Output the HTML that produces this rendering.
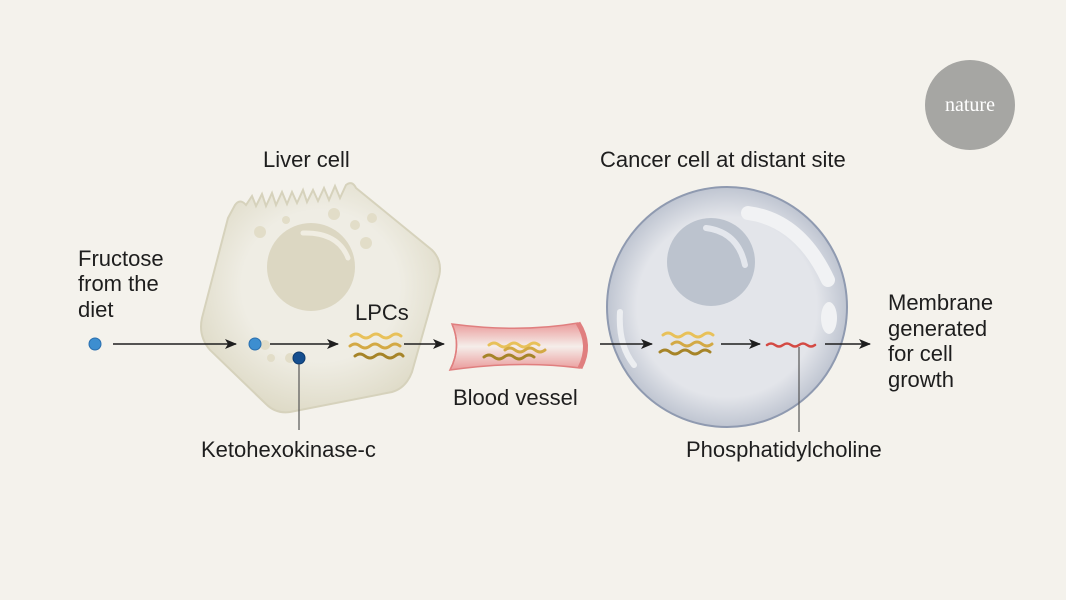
<!DOCTYPE html>
<html><head><meta charset="utf-8"><style>
html,body{margin:0;padding:0;background:#f4f2ec;}
svg{display:block}
text{font-family:"Liberation Sans",sans-serif;font-size:22px;fill:#1e1e1e}
</style></head><body>
<svg width="1066" height="600" viewBox="0 0 1066 600" xmlns="http://www.w3.org/2000/svg">
<defs>
<radialGradient id="lg" cx="0.5" cy="0.45" r="0.6"><stop offset="0.55" stop-color="#efede4"/><stop offset="1" stop-color="#dcd8c3"/></radialGradient>
<radialGradient id="cg" cx="0.5" cy="0.5" r="0.5"><stop offset="0.75" stop-color="#e3e5ea"/><stop offset="1" stop-color="#bfc5d1"/></radialGradient>
<linearGradient id="vg" x1="0" y1="0" x2="0" y2="1"><stop offset="0" stop-color="#ea9a9a"/><stop offset="0.5" stop-color="#f5eeea"/><stop offset="1" stop-color="#ea9a9a"/></linearGradient>
<marker id="ah" markerWidth="12" markerHeight="10" refX="11" refY="5" orient="auto" markerUnits="userSpaceOnUse"><path d="M0,0 L12,5 L0,10 L3,5 Z" fill="#1e1e1e"/></marker>
</defs>
<rect width="1066" height="600" fill="#f4f2ec"/>
<circle cx="970" cy="105" r="45" fill="#a6a6a3"/>
<text x="970" y="111" text-anchor="middle" style="font-family:'Liberation Serif',serif;font-size:20px;fill:#fff">nature</text>

<!-- liver cell -->
<path d="M235,205 Q240,198 246,205 L252,196 256,206 262,194 266,206 272,193 276,205 282,192 287,204 292,192 297,203 303,190 307,202 313,190 318,201 324,188 329,200 335,186 340,198 346,185 Q352,180 356,188 L432,250 Q444,262 438,280 L412,372 Q406,388 392,392 L290,412 Q276,414 266,404 L210,350 Q198,336 202,318 L228,218 Z" fill="url(#lg)" stroke="#d6d2bc" stroke-width="2"/>
<circle cx="311" cy="267" r="44" fill="#dcd7c2"/>
<path d="M303,233 Q338,232 348,258" stroke="#f0ede2" stroke-width="5" fill="none" stroke-linecap="round"/>
<circle cx="334" cy="214" r="6" fill="#e2ddc8"/><circle cx="355" cy="225" r="5" fill="#e2ddc8"/><circle cx="366" cy="243" r="6" fill="#e2ddc8"/><circle cx="260" cy="232" r="6" fill="#e2ddc8"/><circle cx="286" cy="220" r="4" fill="#e2ddc8"/><circle cx="372" cy="218" r="5" fill="#e2ddc8"/>
<circle cx="265" cy="345" r="5" fill="#e2ddc8"/><circle cx="290" cy="358" r="5" fill="#e2ddc8"/><circle cx="271" cy="358" r="4" fill="#e2ddc8"/>

<!-- cancer cell -->
<circle cx="727" cy="307" r="120" fill="url(#cg)" stroke="#8f9ab0" stroke-width="2"/>
<circle cx="711" cy="262" r="44" fill="#bcc3ce"/>
<path d="M706,228 Q738,232 745,265" stroke="#e4e7ed" stroke-width="6" fill="none" stroke-linecap="round"/>
<path d="M748,213 Q800,220 828,280" stroke="#f1f2f4" stroke-width="14" fill="none" stroke-linecap="round"/>
<ellipse cx="829" cy="318" rx="8" ry="16" fill="#f1f2f4"/>
<path d="M620,312 Q618,345 634,365" stroke="#eceef1" stroke-width="6" fill="none" stroke-linecap="round"/>

<!-- vessel -->
<path d="M452,324 Q520,333 578,323 Q592,345 580,368 Q520,360 450,370 Q462,347 452,324 Z" fill="url(#vg)" stroke="#e07f7f" stroke-width="1.5"/>
<path d="M452,324 Q462,347 450,370" stroke="#e07f7f" stroke-width="1.5" fill="none"/>
<path d="M578,323 Q592,345 580,368" stroke="#e07f7f" stroke-width="5" fill="none"/>

<!-- squiggles -->
<g fill="none" stroke-width="3" stroke-linecap="round">
<path d="M351,336 q5,-4 10,0 t10,0 t10,0 t10,0 t10,0" stroke="#e8c15a"/>
<path d="M350,346 q5,-4 10,0 t10,0 t10,0 t10,0 t10,0" stroke="#d3a944"/>
<path d="M355,356 q5,-4 10,0 t10,0 t10,0 t10,0 t8,0" stroke="#a68428"/>
<path d="M489,345 q5,-4 10,0 t10,0 t10,0 t10,0 t10,0" stroke="#e8c15a"/>
<path d="M505,350 q5,-4 10,0 t10,0 t10,0 t10,0" stroke="#d3a944"/>
<path d="M484,357 q5,-4 10,0 t10,0 t10,0 t10,0 t10,0" stroke="#a68428"/>
<path d="M663,335 q5,-4 10,0 t10,0 t10,0 t10,0 t10,0" stroke="#e8c15a"/>
<path d="M672,344 q5,-4 10,0 t10,0 t10,0 t10,0" stroke="#d3a944"/>
<path d="M660,352 q5,-4 10,0 t10,0 t10,0 t10,0 t10,0" stroke="#a68428"/>
<path d="M767,345 q4,-3 8,0 t8,0 t8,0 t8,0 t8,0 t8,0" stroke="#d44a44" stroke-width="2.5"/>
</g>

<!-- dots -->
<circle cx="95" cy="344" r="6" fill="#3d8ed0" stroke="#2a6fae"/>
<circle cx="255" cy="344" r="6" fill="#3d8ed0" stroke="#2a6fae"/>
<circle cx="299" cy="358" r="6" fill="#154e8f" stroke="#0d3a6e"/>

<!-- arrows -->
<g stroke="#1e1e1e" stroke-width="1.5" marker-end="url(#ah)">
<line x1="113" y1="344" x2="236" y2="344"/>
<line x1="270" y1="344" x2="338" y2="344"/>
<line x1="404" y1="344" x2="444" y2="344"/>
<line x1="600" y1="344" x2="652" y2="344"/>
<line x1="721" y1="344" x2="760" y2="344"/>
<line x1="825" y1="344" x2="870" y2="344"/>
</g>
<line x1="299" y1="364" x2="299" y2="430" stroke="#555" stroke-width="1.2"/>
<line x1="799" y1="347" x2="799" y2="432" stroke="#555" stroke-width="1.2"/>

<!-- labels -->
<text x="263" y="167">Liver cell</text>
<text x="600" y="167">Cancer cell at distant site</text>
<text x="78" y="266">Fructose</text>
<text x="78" y="291">from the</text>
<text x="78" y="317">diet</text>
<text x="355" y="320">LPCs</text>
<text x="453" y="405">Blood vessel</text>
<text x="201" y="457">Ketohexokinase-c</text>
<text x="686" y="457">Phosphatidylcholine</text>
<text x="888" y="310">Membrane</text>
<text x="888" y="336">generated</text>
<text x="888" y="361">for cell</text>
<text x="888" y="387">growth</text>
</svg>
</body></html>
